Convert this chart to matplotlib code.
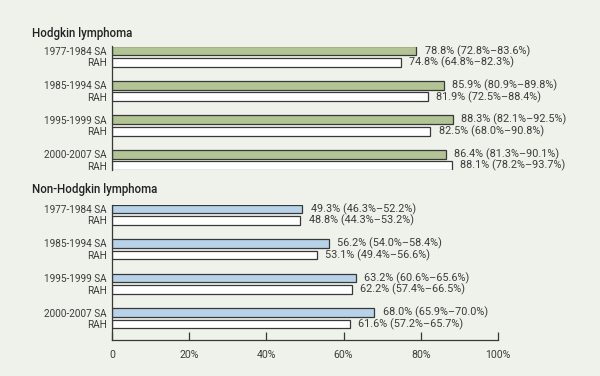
import matplotlib
matplotlib.use("Agg")
import matplotlib.pyplot as plt

periods = ["1977-1984", "1985-1994", "1995-1999", "2000-2007"]
hl_sa = [78.8, 85.9, 88.3, 86.4]
hl_rah = [74.8, 81.9, 82.5, 88.1]
hl_sa_ci = ["72.8%–83.6%", "80.9%–89.8%", "82.1%–92.5%", "81.3%–90.1%"]
hl_rah_ci = ["64.8%–82.3%", "72.5%–88.4%", "68.0%–90.8%", "78.2%–93.7%"]
nhl_sa = [49.3, 56.2, 63.2, 68.0]
nhl_rah = [48.8, 53.1, 62.2, 61.6]
nhl_sa_ci = ["46.3%–52.2%", "54.0%–58.4%", "60.6%–65.6%", "65.9%–70.0%"]
nhl_rah_ci = ["44.3%–53.2%", "49.4%–56.6%", "57.4%–66.5%", "57.2%–65.7%"]
xticks = [0, 20, 40, 60, 80, 100]
xticklabels = ["0", "20%", "40%", "60%", "80%", "100%"]

plt.rcParams['font.family'] = ['Roboto', 'DejaVu Sans']
BG = "#eef2ea"
TXT = "#3c3c3c"
EDGE = "#383838"
W, H = 600, 376
fig = plt.figure(figsize=(6, 3.76), dpi=100, facecolor=BG)

def ax_px(x0, y0, x1, y1):
    return fig.add_axes([x0 / W, 1 - y1 / H, (x1 - x0) / W, (y1 - y0) / H])

def draw(ax, sa, rah, sa_ci, rah_ci, color, bottom):
    ysa = [3 * i for i in range(4)]
    yrah = [3 * i + 1 for i in range(4)]
    ax.barh(ysa, sa, height=0.78, color=color, edgecolor=EDGE, linewidth=0.9)
    ax.barh(yrah, rah, height=0.78, color="white", edgecolor=EDGE, linewidth=0.9)
    for y, v, ci in zip(ysa, sa, sa_ci):
        ax.annotate(f"{v:.1f}% ({ci})", (v, y), xytext=(6, 0), textcoords="offset points",
                    va="center", ha="left", fontsize=7.8, color=TXT)
    for y, v, ci in zip(yrah, rah, rah_ci):
        ax.annotate(f"{v:.1f}% ({ci})", (v, y), xytext=(6, 0), textcoords="offset points",
                    va="center", ha="left", fontsize=7.8, color=TXT)
    ticks = sorted(ysa + yrah)
    labels = []
    for i in range(4):
        labels += [f"{periods[i]} SA", "RAH"]
    ax.set_yticks(ticks)
    ax.set_yticklabels(labels, fontsize=7.2, color=TXT)
    ax.tick_params(axis="y", length=0, pad=4)
    ax.set_xlim(0, 100)
    ax.set_facecolor("none")
    for s in ["top", "right"]:
        ax.spines[s].set_visible(False)
    ax.spines["left"].set_color(EDGE)
    ax.spines["left"].set_linewidth(0.9)
    if bottom:
        ax.set_ylim(11.39, -0.39)
        ax.spines["bottom"].set_color(EDGE)
        ax.spines["bottom"].set_linewidth(0.9)
        ax.set_xticks(xticks)
        ax.set_xticklabels(xticklabels, fontsize=7.6, color=TXT)
        ax.tick_params(axis="x", direction="in", length=6, width=0.9, color=EDGE, pad=7)
    else:
        ax.set_ylim(10.39, -0.39)
        ax.spines["bottom"].set_visible(False)
        ax.set_xticks([])

ax1 = ax_px(112, 46.5, 498, 170)
draw(ax1, hl_sa, hl_rah, hl_sa_ci, hl_rah_ci, "#b2c394", False)
ax2 = ax_px(112, 204.5, 498, 340)
draw(ax2, nhl_sa, nhl_rah, nhl_sa_ci, nhl_rah_ci, "#b8d2ea", True)

fig.text(32 / W, 1 - 33 / H, "Hodgkin lymphoma", fontsize=8.3, fontweight="medium",
         color="#222222", va="center", ha="left")
fig.text(32 / W, 1 - 190 / H, "Non-Hodgkin lymphoma", fontsize=8.3, fontweight="medium",
         color="#222222", va="center", ha="left")

fig.savefig("out.png", dpi=100, facecolor=BG)
